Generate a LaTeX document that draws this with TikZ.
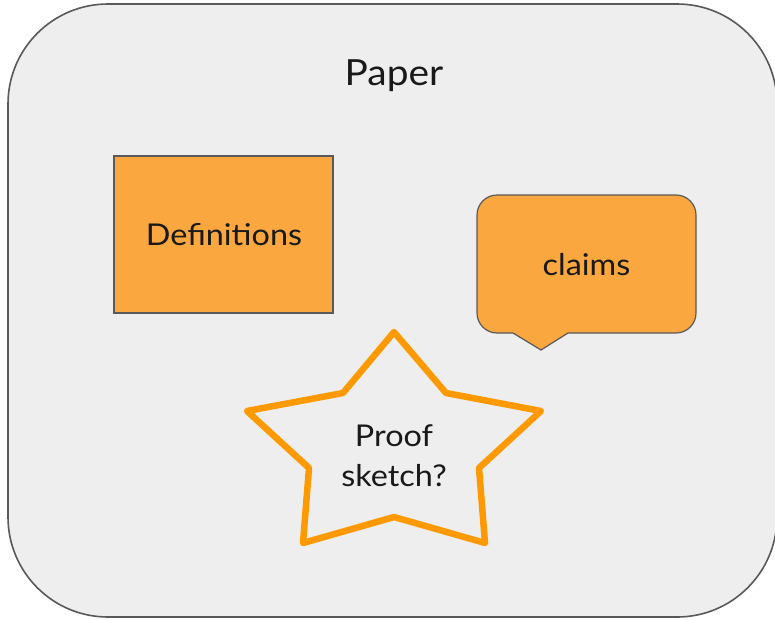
\documentclass[tikz,border=0pt]{standalone}
\usepackage{fontspec}
\setmainfont{Lato}[FakeStretch=1.08]
\definecolor{paperbg}{HTML}{EEEEEE}
\definecolor{edgegray}{HTML}{595959}
\definecolor{boxorange}{HTML}{FBA73F}
\definecolor{starorange}{HTML}{FF9900}
\tikzset{
  panel/.style={draw=edgegray, line width=1.6pt, fill=paperbg, rounded corners=100pt},
  orangebox/.style={draw=edgegray, line width=1.2pt, fill=boxorange, line join=miter},
  starline/.style={draw=starorange, line width=6.5pt, line join=round},
  label/.style={text=black!90, align=center, inner sep=0pt},
}
\begin{document}
\begin{tikzpicture}[x=1pt, y=-1pt]
  \useasboundingbox (0,0) rectangle (775,619);
  % outer rounded panel
  \path[panel] (8,4) rectangle (777,617);
  \node[label, font=\fontsize{36}{40}\selectfont] (paper) at (394,76) {Paper};

  % definitions box
  \path[orangebox] (114,156) rectangle (333,313);
  \node[label, font=\fontsize{30}{36}\selectfont] (defs) at (224,235) {Definitions};

  % claims speech bubble: rounded box with a pointed tail
  \path[orangebox]
    (513,333) -- (497,333) arc[start angle=90, end angle=180, radius=20]
    -- (477,215) arc[start angle=180, end angle=270, radius=20]
    -- (676,195) arc[start angle=270, end angle=360, radius=20]
    -- (696,313) arc[start angle=0, end angle=90, radius=20]
    -- (568,333) -- (541,350) -- cycle;
  \node[label, font=\fontsize{30}{36}\selectfont] (claims) at (586.5,265) {claims};

  % star outline
  \path[starline]
    (394,332) -- (446,393) -- (541,411) -- (479,468) -- (485,543)
    -- (394,517) -- (303,543) -- (309,468) -- (247,411) -- (343,393) -- cycle;
  \node[label, font=\fontsize{30}{40}\selectfont] (proof) at (394,456) {Proof\\sketch?};
\end{tikzpicture}
\end{document}
